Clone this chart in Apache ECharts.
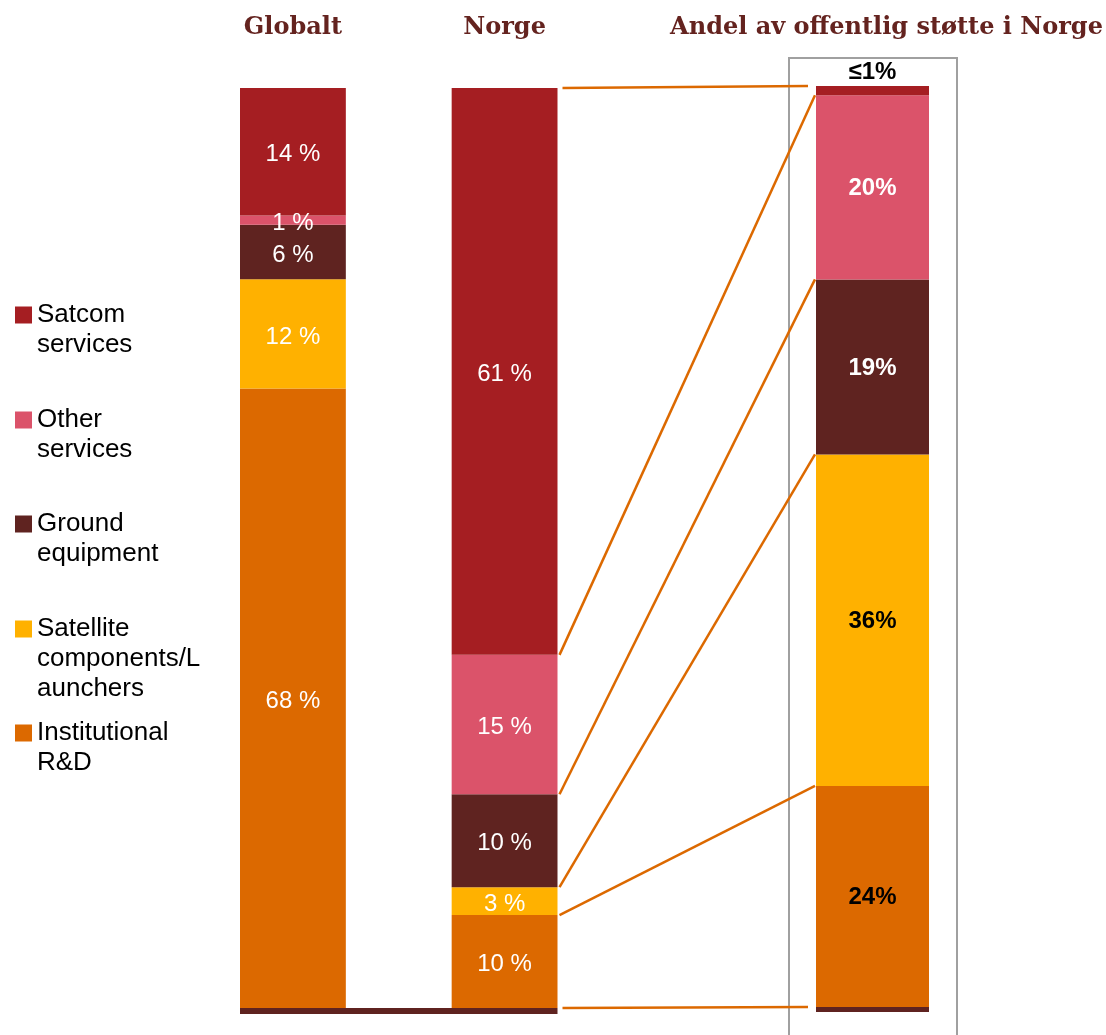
<!DOCTYPE html>
<html>
<head>
<meta charset="utf-8">
<script src="https://cdn.jsdelivr.net/npm/echarts@6/dist/echarts.min.js"></script>
<style>
  html, body { margin: 0; padding: 0; background: #ffffff; }
  #chart { width: 1106px; height: 1035px; }
</style>
</head>
<body>
<div id="chart"></div>
<script>
// Segment names, listed top of bar first
const segments = ['Satcom services', 'Other services', 'Ground equipment', 'Satellite components/Launchers', 'Institutional R&D'];
const legendLabels = ['Satcom\nservices', 'Other\nservices', 'Ground\nequipment', 'Satellite\ncomponents/L\naunchers', 'Institutional\nR&D'];
const columns = ['Globalt', 'Norge', 'Andel av offentlig støtte i Norge'];

// Shares in percent, same order as segments
const globalt = [14, 1, 6, 12, 68];
const norge = [61, 15, 10, 3, 10];
const offentlig = [1, 20, 19, 36, 24];

const colors = ['#A51E22', '#DB536A', '#5F2320', '#FFB100', '#DC6900'];
const darkBase = '#5F2320';
const headColor = '#64231F';
const linkColor = '#DC6900';

const sum = arr => arr.reduce((a, b) => a + b, 0);

const chart = echarts.init(document.getElementById('chart'), null, { renderer: 'canvas' });

const headLabel = {
  show: true, interval: 0, fontFamily: 'DejaVu Serif', fontWeight: 'bold',
  fontSize: 24, color: headColor, margin: 48
};

const series = [];
// bottom segment first so the stack builds upward
for (let i = segments.length - 1; i >= 0; i--) {
  const sansLabel = {
    show: true, position: 'inside', offset: [0, 3], color: '#ffffff', fontSize: 24,
    fontFamily: 'Liberation Sans', formatter: p => p.value + ' %'
  };
  series.push({
    type: 'bar', name: segments[i], xAxisIndex: 0, yAxisIndex: 0, stack: 'left',
    barCategoryGap: '0%', data: [globalt[i], '-', '-'],
    itemStyle: { color: colors[i] }, label: sansLabel
  });
  series.push({
    type: 'bar', name: segments[i], xAxisIndex: 0, yAxisIndex: 1, stack: 'left',
    barCategoryGap: '0%', data: ['-', '-', norge[i]],
    itemStyle: { color: colors[i] }, label: sansLabel
  });
  series.push({
    type: 'bar', name: segments[i], xAxisIndex: 2, yAxisIndex: 2, stack: 'right',
    barCategoryGap: '0%', data: [offentlig[i]],
    itemStyle: { color: colors[i] },
    label: {
      show: true, position: i === 0 ? 'top' : 'inside', distance: 2,
      offset: i === 0 ? [0, 0] : [0, 1],
      color: i <= 2 && i > 0 ? '#ffffff' : '#000000',
      fontSize: 24, fontWeight: 'bold', fontFamily: 'Liberation Sans',
      formatter: p => (p.value <= 1 ? '≤' : '') + p.value + '%'
    }
  });
}

// one legend block per segment; leading empty lines keep the swatch level with the first text line
const legendCenters = [315, 420, 524, 629, 733];
const legends = segments.map((name, i) => {
  const lines = legendLabels[i].split('\n').length;
  return {
    orient: 'vertical', left: 15, top: legendCenters[i] - 30 * (lines - 1) - 15,
    padding: 0, itemWidth: 17, itemHeight: 17, itemGap: 0, icon: 'rect',
    data: [name], formatter: () => '\n'.repeat(lines - 1) + legendLabels[i],
    textStyle: { fontSize: 26, lineHeight: 30, color: '#000000', fontFamily: 'Liberation Sans' }
  };
});

const option = {
  animation: false,
  backgroundColor: '#ffffff',
  legend: legends,
  grid: [
    { left: 240, top: 88, width: 317.5, height: 920, containLabel: false },
    { left: 816, top: 86, width: 113, height: 921, containLabel: false }
  ],
  xAxis: [
    { type: 'category', gridIndex: 0, position: 'bottom', offset: 3, data: [columns[0], '', columns[1]],
      axisLine: { onZero: false, lineStyle: { color: darkBase, width: 6, cap: 'butt' } },
      axisTick: { show: false }, axisLabel: { show: false } },
    { type: 'category', gridIndex: 0, position: 'top', data: [columns[0], '', columns[1]],
      axisLine: { show: false }, axisTick: { show: false }, axisLabel: headLabel },
    { type: 'category', gridIndex: 1, position: 'bottom', offset: 2.5, data: [columns[2]],
      axisLine: { onZero: false, lineStyle: { color: darkBase, width: 5, cap: 'butt' } },
      axisTick: { show: false }, axisLabel: { show: false } },
    { type: 'category', gridIndex: 1, position: 'top', data: [columns[2]],
      axisLine: { show: false }, axisTick: { show: false },
      axisLabel: Object.assign({}, headLabel, { margin: 46, padding: [0, 0, 0, 28] }) }
  ],
  yAxis: [
    { type: 'value', gridIndex: 0, min: 0, max: sum(globalt), show: false },
    { type: 'value', gridIndex: 0, min: 0, max: sum(norge), show: false },
    { type: 'value', gridIndex: 1, min: 0, max: sum(offentlig), show: false }
  ],
  series: series
};

chart.setOption(option);

// Connector lines between matching segment boundaries of the two Norway bars
function cumulative(arr) {
  const out = [0];
  for (let i = arr.length - 1; i >= 0; i--) out.push(out[out.length - 1] + arr[i]);
  return out;
}
function drawLinks() {
  const model = chart.getModel();
  const bandN = model.getComponent('xAxis', 0).axis.getBandWidth();
  const bandP = model.getComponent('xAxis', 2).axis.getBandWidth();
  const nRight = chart.convertToPixel({ xAxisIndex: 0 }, columns[1]) + bandN / 2;
  const pLeft = chart.convertToPixel({ xAxisIndex: 2 }, columns[2]) - bandP / 2;
  const cumN = cumulative(norge);
  const cumP = cumulative(offentlig);
  const elements = [{
    type: 'rect', id: 'frame', z: 0,
    shape: { x: pLeft - 27, y: 58, width: bandP + 55, height: 1000 },
    style: { fill: 'none', stroke: '#A0A0A0', lineWidth: 2 }
  }];
  cumN.forEach((v, k) => {
    const edge = k === 0 || k === cumN.length - 1;
    elements.push({
      type: 'line', id: 'link' + k, z: 10,
      shape: {
        x1: nRight + (edge ? 5 : 2), y1: chart.convertToPixel({ yAxisIndex: 1 }, v),
        x2: pLeft - (edge ? 8 : 1), y2: chart.convertToPixel({ yAxisIndex: 2 }, cumP[k])
      },
      style: { stroke: linkColor, lineWidth: 2.5 }
    });
  });
  chart.setOption({ graphic: { elements: elements } });
}
drawLinks();
</script>
</body>
</html>
